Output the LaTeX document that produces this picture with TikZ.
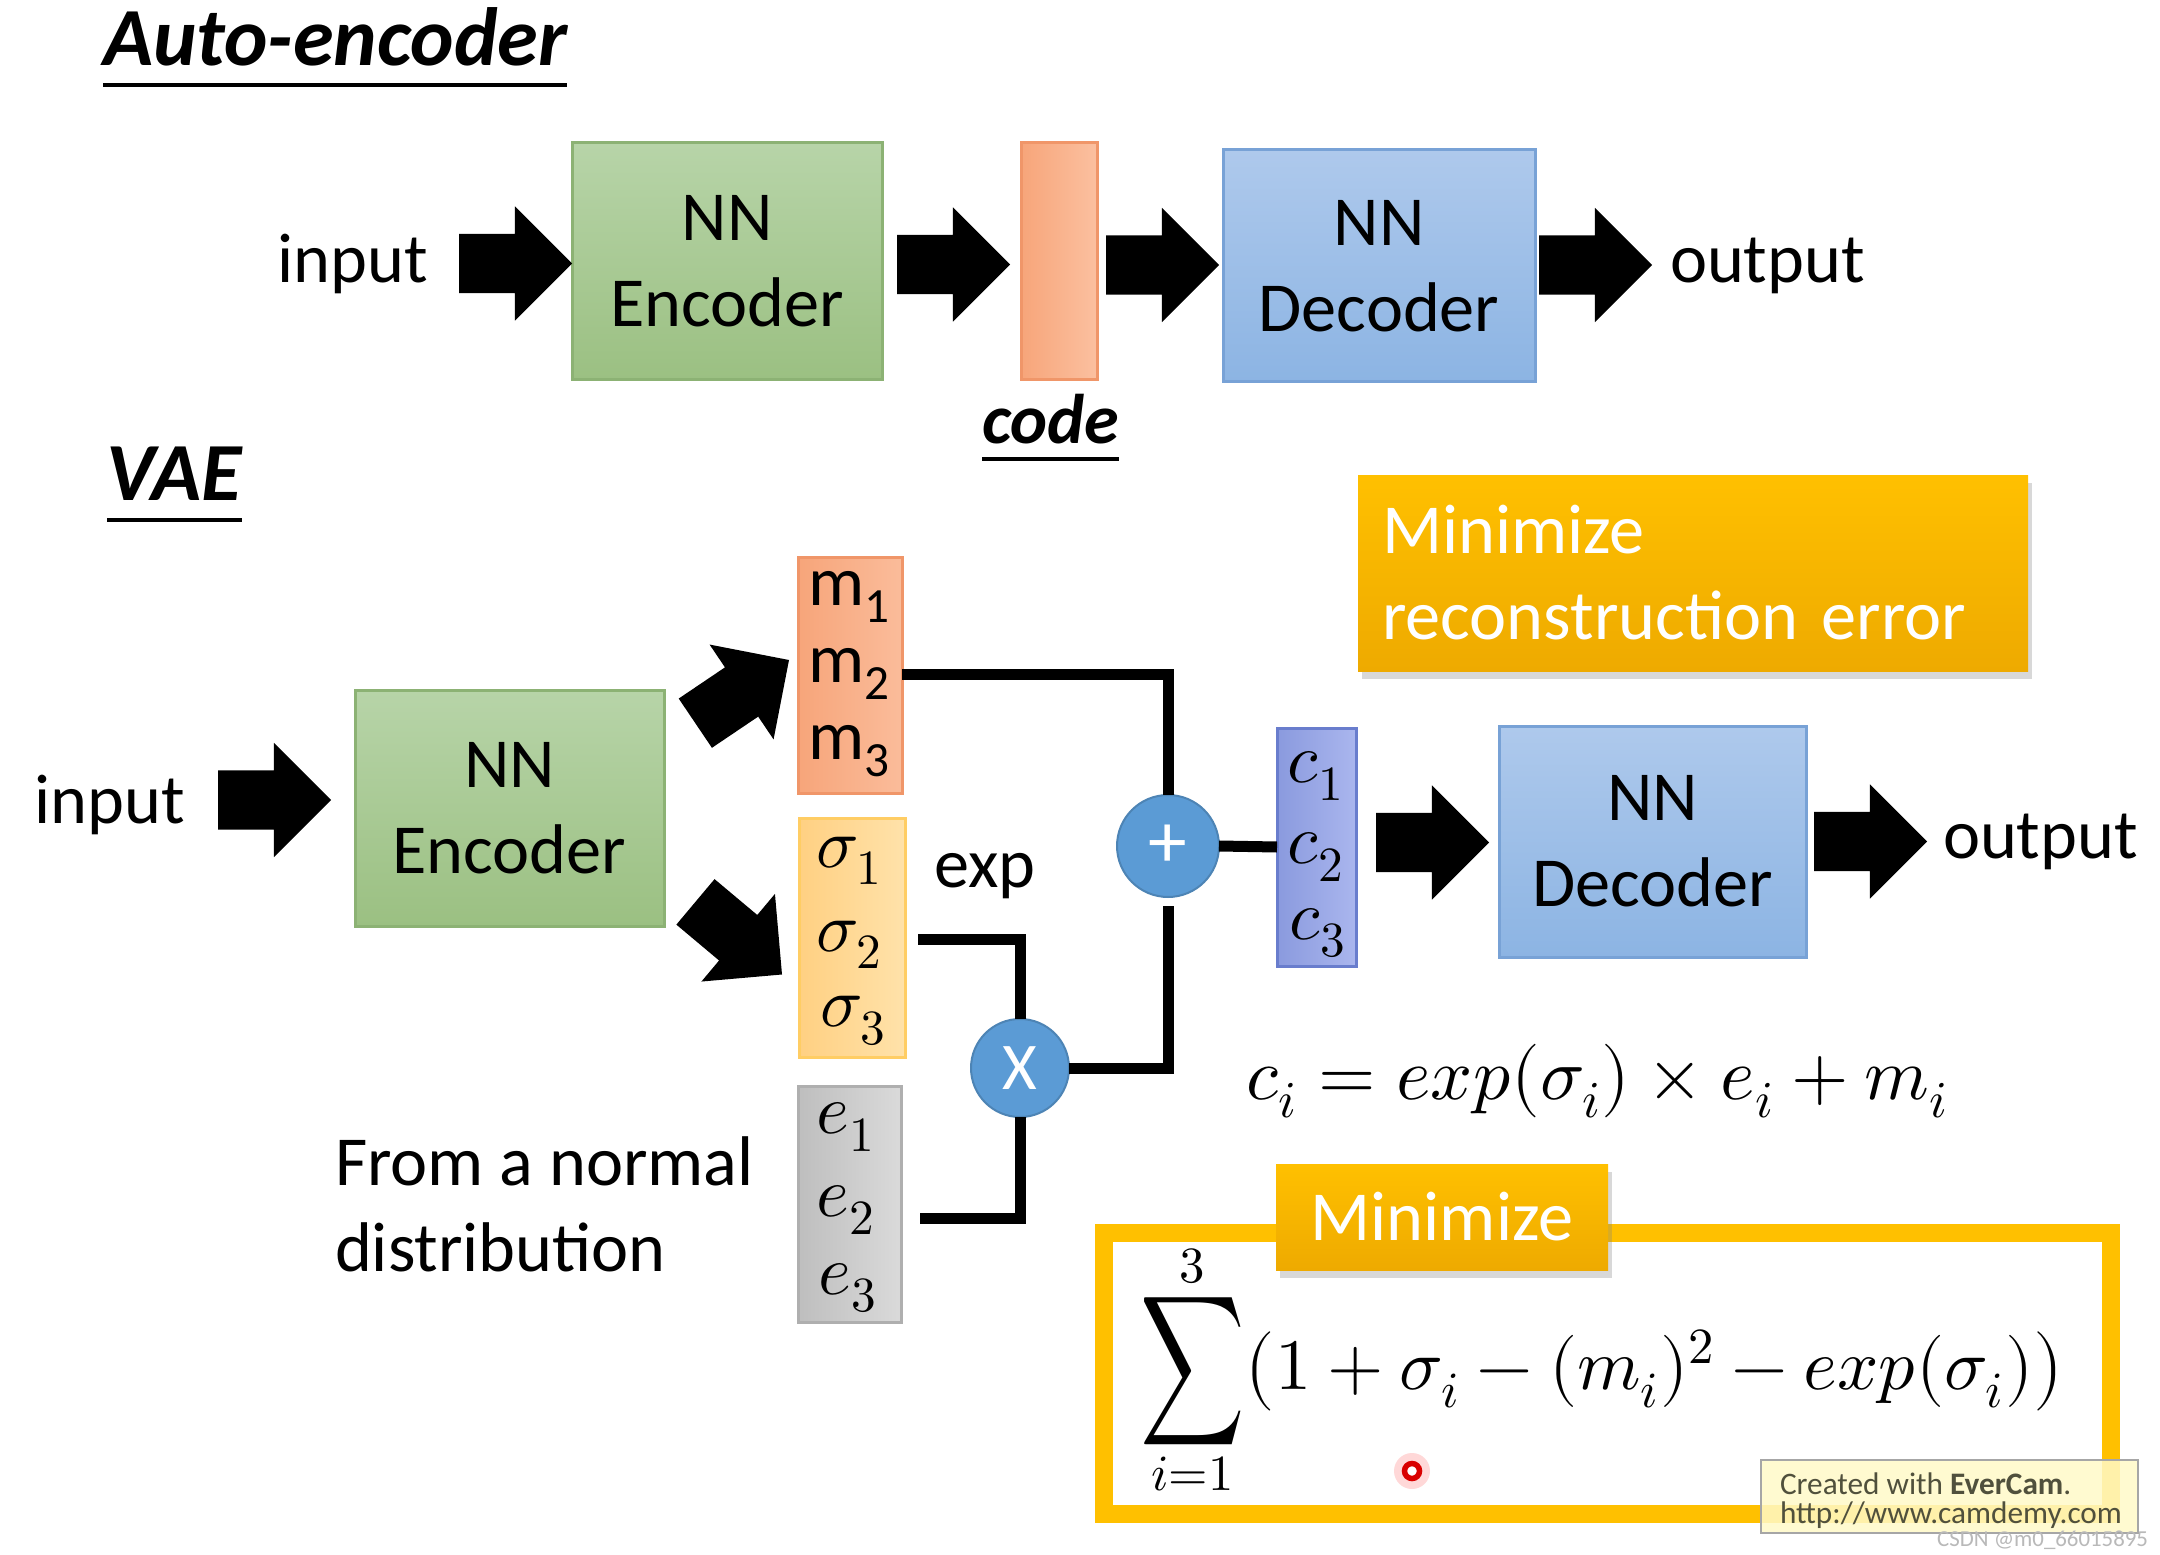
\documentclass[tikz,border=0pt]{standalone}
\usepackage{graphicx}
\usepackage{fontspec}
\usepackage{unicode-math}
\setmainfont{Carlito}
\setmathfont{Latin Modern Math}
\usetikzlibrary{shapes.arrows,shadows,calc}

\definecolor{grnT}{RGB}{183,212,168}
\definecolor{grnB}{RGB}{155,192,130}
\definecolor{grnD}{RGB}{140,178,116}
\definecolor{bluT}{RGB}{174,201,236}
\definecolor{bluB}{RGB}{140,180,227}
\definecolor{bluD}{RGB}{120,162,214}
\definecolor{orgL}{RGB}{247,165,122}
\definecolor{orgR}{RGB}{251,192,160}
\definecolor{orgD}{RGB}{240,150,105}
\definecolor{yelL}{RGB}{255,208,130}
\definecolor{yelR}{RGB}{255,226,170}
\definecolor{yelD}{RGB}{255,205,100}
\definecolor{gryL}{RGB}{190,190,190}
\definecolor{gryR}{RGB}{218,218,218}
\definecolor{gryD}{RGB}{175,175,175}
\definecolor{perL}{RGB}{138,154,222}
\definecolor{perR}{RGB}{170,182,238}
\definecolor{perD}{RGB}{105,125,205}
\definecolor{cblue}{RGB}{91,155,213}
\definecolor{gold}{RGB}{255,192,0}
\definecolor{goldB}{RGB}{238,170,0}
\definecolor{wmfill}{RGB}{255,250,200}
\definecolor{wmtext}{RGB}{80,80,60}

\begin{document}
\begin{tikzpicture}[x=0.1mm,y=-0.1mm,
  every node/.style={inner sep=0pt, outer sep=0pt},
  txt/.style={font=\fontsize{20}{24.5}\selectfont},
  ttl/.style={font=\fontsize{23.5}{28}\selectfont\bfseries\itshape},
  uline/.style={line width=0.45mm},
  nnbox/.style={draw, line width=0.3mm, align=center, txt},
  encbox/.style={nnbox, top color=grnT, bottom color=grnB, draw=grnD},
  decbox/.style={nnbox, top color=bluT, bottom color=bluB, draw=bluD},
  vecbox/.style={draw, line width=0.3mm},
  barrow/.style={single arrow, fill=black, draw=none, inner xsep=0pt,
    inner ysep=2.9mm, minimum height=11.3mm,
    single arrow head extend=2.75mm,
    single arrow head indent=0pt, single arrow tip angle=90},
  conn/.style={line width=1.1mm},
  circ/.style={circle, fill=cblue, draw=cblue!85!black, line width=0.2mm, text=white},
  obox/.style={top color=gold, bottom color=goldB, text=white, txt,
    drop shadow={opacity=0.3, shadow xshift=0.4mm, shadow yshift=-0.8mm}}
]
\useasboundingbox[fill=white] (0,0) rectangle (2160,1555);

% ---------- Auto-encoder ----------
\node[ttl, anchor=base west] (t1) at (103,66) {Auto-encoder};
\draw[uline] ($(t1.base west)+(0,19)$) -- ($(t1.base east)+(0,19)$);

\node[txt, anchor=base] (inA) at (353,283) {input};
\node[encbox, minimum width=31mm, minimum height=23.7mm] (encA) at (727,261.5) {NN\\Encoder};
\node[vecbox, left color=orgL, right color=orgR, draw=orgD, minimum width=7.6mm, minimum height=23.7mm] (code) at (1059,261.5) {};
\node[decbox, minimum width=31.2mm, minimum height=23.2mm] (decA) at (1379,266) {NN\\Decoder};
\node[txt, anchor=base west] (outA) at (1670,283) {output};

\node[barrow, anchor=tip] (a1) at ($(encA.west)+(0,2)$) {};
\node[barrow, anchor=tip] (a2) at ($(code.west)+(-11,3)$) {};
\node[barrow, anchor=tip] (a3) at ($(decA.west)+(-4,-1)$) {};
\node[barrow, anchor=tail] (a4) at ($(decA.east)+(4,-1)$) {};

\node[font=\fontsize{20}{24}\selectfont\bfseries\itshape, anchor=base west] (cd) at (982,444) {code};
\draw[uline] ($(cd.base west)+(0,15)$) -- ($(cd.base east)+(0,15)$);

% ---------- VAE ----------
\node[ttl, anchor=base west] (t2) at (107,501) {VAE};
\draw[uline] ($(t2.base west)+(0,19)$) -- ($(t2.base east)+(0,19)$);

\node[txt, anchor=base] (inB) at (110,823) {input};
\node[encbox, minimum width=30.9mm, minimum height=23.6mm] (encB) at (509.5,808) {NN\\Encoder};
\node[barrow, anchor=tip] (a5) at ($(encB.west)+(-24,-8)$) {};

\node[vecbox, left color=orgL, right color=orgR!85!orgL, draw=orgD, minimum width=10.4mm, minimum height=23.6mm] (mbox) at (850,675) {};
\node[txt] (m1) at (850,597) {m\textsubscript{1}};
\node[txt] (m2) at (850,674) {m\textsubscript{2}};
\node[txt] (m3) at (850,751) {m\textsubscript{3}};

\node[vecbox, left color=yelL, right color=yelR, draw=yelD, minimum width=10.6mm, minimum height=23.9mm] (sbox) at (852,937.5) {};
\node[txt] (s1) at (850,861) {$\sigma_1$};
\node[txt] (s2) at (850,945) {$\sigma_2$};
\node[txt] (s3) at (854,1021) {$\sigma_3$};

\node[vecbox, left color=gryL, right color=gryR, draw=gryD, minimum width=10.3mm, minimum height=23.6mm] (ebox) at (849.5,1204) {};
\node[txt] (e1) at (846,1127) {$e_1$};
\node[txt] (e2) at (846,1210) {$e_2$};
\node[txt] (e3) at (848,1288) {$e_3$};

\node[barrow, anchor=tip, rotate=34] (a6) at ($(mbox.west)+(-9,-15)$) {};
\node[barrow, anchor=tip, rotate=-40] (a7) at ($(sbox.west)+(-17,37)$) {};

\node[txt, anchor=base] (exp) at (985,887) {exp};
\node[txt, align=left, anchor=west] (norm) at (335,1204) {From a normal\\distribution};

\node[circ, minimum size=10.2mm, font=\fontsize{22}{24}\selectfont] (plus) at (1168,846) {+};
\node[circ, minimum size=9.8mm, font=\fontsize{19}{22}\selectfont] (times) at (1020,1068) {X};

\node[vecbox, left color=perL, right color=perR, draw=perD, minimum width=7.9mm, minimum height=23.8mm] (cbox) at (1316.5,847) {};
\node[txt] (c1) at (1316,776) {$c_1$};
\node[txt] (c2) at (1316,857) {$c_2$};
\node[txt] (c3) at (1318,933) {$c_3$};

\node[decbox, minimum width=30.7mm, minimum height=23.1mm] (decB) at (1652.5,841.5) {NN\\Decoder};
\node[txt, anchor=base west] (outB) at (1943,858) {output};
\node[barrow, anchor=tip] (a8) at ($(decB.west)+(-10,1)$) {};
\node[barrow, anchor=tail] (a9) at ($(decB.east)+(8,0)$) {};

% connectors
\coordinate (sl) at (918,939);
\coordinate (el) at (920,1218);
\coordinate (pl) at (1168,906);
\draw[conn] (mbox.east |- m2) -| (plus.north);
\draw[conn] (sl) -| (times.north);
\draw[conn] (el) -| (times.south);
\draw[conn] (times.east) -| (pl);
\draw[conn] (plus.east) -- (cbox.west);

% reconstruction error box
\node[obox, minimum width=67mm, minimum height=19.6mm, text width=62.2mm,
  inner xsep=2.4mm, align=left] (rec) at (1693,573) {Minimize\\reconstruction error};

% equation
\node[font=\fontsize{21}{25}\selectfont] (eq) at (1598,1081) {$c_i = exp(\sigma_i)\times e_i + m_i$};

% KL frame
\draw[gold, line width=1.8mm] (1104,1233) rectangle (2111,1514);
\node[obox, minimum width=33.2mm, minimum height=10.6mm] (tab) at (1442,1217) {Minimize};
\node[font=\fontsize{20.6}{24}\selectfont] (kl) at (1602,1370)
  {$\mathop{\vcenter{\hbox{\scalebox{1}[1.45]{$\displaystyle\sum$}}}}\limits_{i=1}^{3}\!\big(1+\sigma_i-(m_i)^2-exp(\sigma_i)\big)$};

% cursor mark
\fill[red!25, opacity=0.6] (1412,1471) circle (1.8mm);
\filldraw[fill=white, draw=red!85!black, line width=0.55mm] (1412,1471) circle (0.75mm);

% watermark
\node[fill=wmfill, fill opacity=0.85, draw=gray!70, line width=0.2mm,
  minimum width=37.7mm, minimum height=7.3mm] (wm) at (1949.5,1496.5) {};
\node[anchor=west, text=wmtext, font=\fontsize{8.9}{11}\selectfont] (wm1) at (1780,1484) {Created with \textbf{EverCam}.};
\node[anchor=west, text=wmtext, font=\fontsize{8.9}{11}\selectfont] (wm2) at (1780,1515) {http://www.camdemy.com};
\node[anchor=east, text=gray!55, font=\fontsize{6.5}{7}\selectfont] (csdn) at (2148,1540) {CSDN @m0\_66015895};
\end{tikzpicture}
\end{document}
